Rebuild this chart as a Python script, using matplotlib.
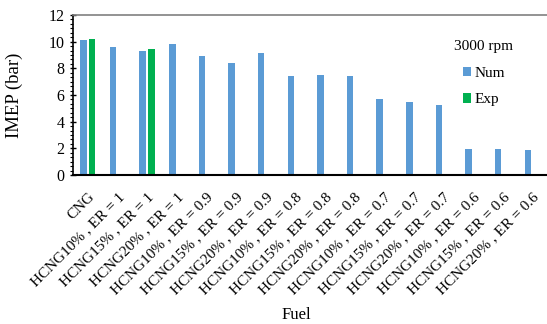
import numpy as np
import matplotlib
matplotlib.use("Agg")
import matplotlib.pyplot as plt
from matplotlib.ticker import MultipleLocator, AutoMinorLocator

plt.rcParams['font.family'] = ['Liberation Serif', 'DejaVu Serif']

fuels = ["CNG",
         "HCNG10% , ER = 1", "HCNG15% , ER = 1", "HCNG20% , ER = 1",
         "HCNG10% , ER = 0.9", "HCNG15% , ER = 0.9", "HCNG20% , ER = 0.9",
         "HCNG10% , ER = 0.8", "HCNG15% , ER = 0.8", "HCNG20% , ER = 0.8",
         "HCNG10% , ER = 0.7", "HCNG15% , ER = 0.7", "HCNG20% , ER = 0.7",
         "HCNG10% , ER = 0.6", "HCNG15% , ER = 0.6", "HCNG20% , ER = 0.6"]
num = [10.13, 9.63, 9.33, 9.83, 8.93, 8.43, 9.18,
       7.4, 7.5, 7.45, 5.7, 5.45, 5.25, 1.95, 1.95, 1.9]
# experiment only for two cases, rest empty
exp = [10.2, np.nan, 9.43, np.nan, np.nan, np.nan, np.nan, np.nan,
       np.nan, np.nan, np.nan, np.nan, np.nan, np.nan, np.nan, np.nan]

fig = plt.figure(figsize=(5.47, 3.24), dpi=100)
ax = fig.add_axes([73/547, 1 - 175/324, 474/547, 160/324])

x = np.arange(len(fuels))
w = 0.22
ax.bar(x - 0.146, num, w, color="#5B9BD5", label="Num")
ax.bar(x + 0.146, exp, w, color="#00B050", label="Exp")

ax.set_xlim(-0.5, len(fuels) - 0.5)
ax.set_ylim(0, 12)
ax.yaxis.set_major_locator(MultipleLocator(2))
ax.yaxis.set_minor_locator(AutoMinorLocator(6))
ax.tick_params(axis="y", which="major", direction="inout", length=5, width=1, labelsize=11.5)
ax.tick_params(axis="y", which="minor", direction="out", length=2.5, width=0.8)
ax.tick_params(axis="x", length=0, labelsize=11, pad=11)
ax.set_xticks(x)
ax.set_xticklabels(fuels, rotation=45, ha="right", rotation_mode="anchor")

ax.spines["right"].set_visible(False)
ax.spines["top"].set_color("#808080")
ax.spines["top"].set_linewidth(1.2)
ax.spines["left"].set_linewidth(1.2)
ax.spines["bottom"].set_linewidth(1.5)

ax.set_ylabel("IMEP (bar)", fontsize=13.5, va="center")
ax.yaxis.set_label_coords((14.5 - 73) / 474, 0.5)
ax.set_xlabel("Fuel", fontsize=12, va="center")
ax.xaxis.set_label_coords((296 - 73) / 474, (175 - 315) / 160)

leg = ax.legend(title="3000 rpm", frameon=False, fontsize=11, title_fontsize=11,
                loc="center", bbox_to_anchor=(484/547, 1 - 73/324),
                bbox_transform=fig.transFigure,
                handlelength=0.55, handleheight=0.55, handletextpad=0.2,
                labelspacing=0.9)
leg._legend_box.sep = 10

fig.savefig("out.png", dpi=100)
